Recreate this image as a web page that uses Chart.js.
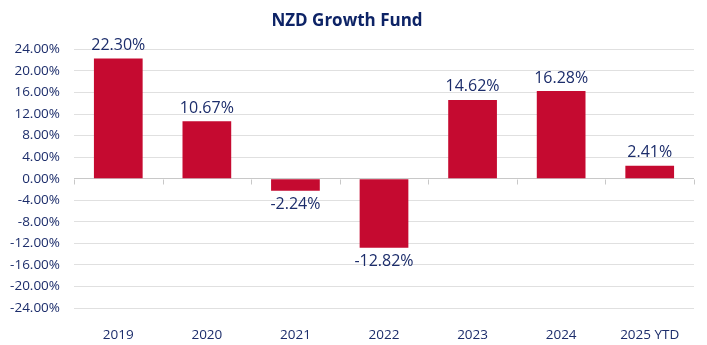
<!DOCTYPE html>
<html lang="en">
<head>
    <meta charset="UTF-8">
    <title>NZD Growth Fund</title>
    <script src="https://cdn.jsdelivr.net/npm/chart.js@4.4.1/dist/chart.umd.min.js"></script>
    <style>
        body { margin: 0; background: #fff; }
    </style>
</head>
<body>
    <canvas id="myChart" width="707" height="345"></canvas>

    <script type="text/javascript">
        const years = ['2019', '2020', '2021', '2022', '2023', '2024', '2025 YTD'];
        const returns = [22.30, 10.67, -2.24, -12.82, 14.62, 16.28, 2.41];
        const yMin = -24;
        const yMax = 24;
        const yStep = 4;

        const navy = '#1c2d6b';
        const font = "'Open Sans', 'Noto Sans', sans-serif";

        // value labels above / below each bar
        const barLabels = {
            id: 'barLabels',
            afterDatasetsDraw(chart) {
                const ctx = chart.ctx;
                const meta = chart.getDatasetMeta(0);
                ctx.save();
                ctx.font = '16px ' + font;
                ctx.fillStyle = navy;
                ctx.textAlign = 'center';
                meta.data.forEach((bar, i) => {
                    const v = returns[i];
                    const txt = v.toFixed(2) + '%';
                    if (v >= 0) {
                        ctx.textBaseline = 'bottom';
                        ctx.fillText(txt, bar.x, bar.y - 5);
                    } else {
                        ctx.textBaseline = 'top';
                        ctx.fillText(txt, bar.x, bar.y + 6);
                    }
                });
                ctx.restore();
            }
        };

        // small tick marks on the zero line between categories
        const zeroTicks = {
            id: 'zeroTicks',
            beforeDatasetsDraw(chart) {
                const ctx = chart.ctx;
                const area = chart.chartArea;
                const y0 = Math.round(chart.scales.y.getPixelForValue(0)) + 0.5;
                const step = (area.right - area.left) / years.length;
                ctx.save();
                ctx.strokeStyle = '#c8c8c8';
                ctx.lineWidth = 1;
                ctx.beginPath();
                for (let i = 0; i <= years.length; i++) {
                    const x = Math.round(area.left + step * i) + 0.5;
                    ctx.moveTo(x, y0);
                    ctx.lineTo(x, y0 + 5);
                }
                ctx.stroke();
                ctx.restore();
            }
        };

        const ctx = document.getElementById('myChart').getContext('2d');
        const myChart = new Chart(ctx, {
            type: 'bar',
            data: {
                labels: years,
                datasets: [{
                    data: returns,
                    backgroundColor: '#c50a30',
                    borderWidth: 0,
                    categoryPercentage: 1,
                    barPercentage: 0.55
                }]
            },
            options: {
                responsive: false,
                animation: false,
                layout: { padding: { left: 0, right: 13, top: 0, bottom: 0 } },
                plugins: {
                    legend: { display: false },
                    tooltip: { enabled: false },
                    title: {
                        display: true,
                        text: 'NZD Growth Fund',
                        color: '#0d2366',
                        font: { family: font, size: 17, weight: 'bold' },
                        padding: { top: 11, bottom: 18 }
                    }
                },
                scales: {
                    x: {
                        grid: { display: false },
                        border: { display: false },
                        ticks: {
                            color: navy,
                            font: { family: font, size: 13.5 },
                            padding: 11,
                            maxRotation: 0
                        },
                        afterFit(scale) { scale.height = 37; }
                    },
                    y: {
                        min: yMin,
                        max: yMax,
                        border: { display: false },
                        grid: {
                            drawTicks: false,
                            color: c => c.tick && c.tick.value === 0 ? '#c8c8c8' : '#e0e0e0'
                        },
                        ticks: {
                            stepSize: yStep,
                            color: navy,
                            font: { family: font, size: 13.5 },
                            padding: 14,
                            callback: v => v.toFixed(2) + '%'
                        },
                        afterFit(scale) { scale.width = 74; }
                    }
                }
            },
            plugins: [zeroTicks, barLabels]
        });
    </script>
</body>
</html>
